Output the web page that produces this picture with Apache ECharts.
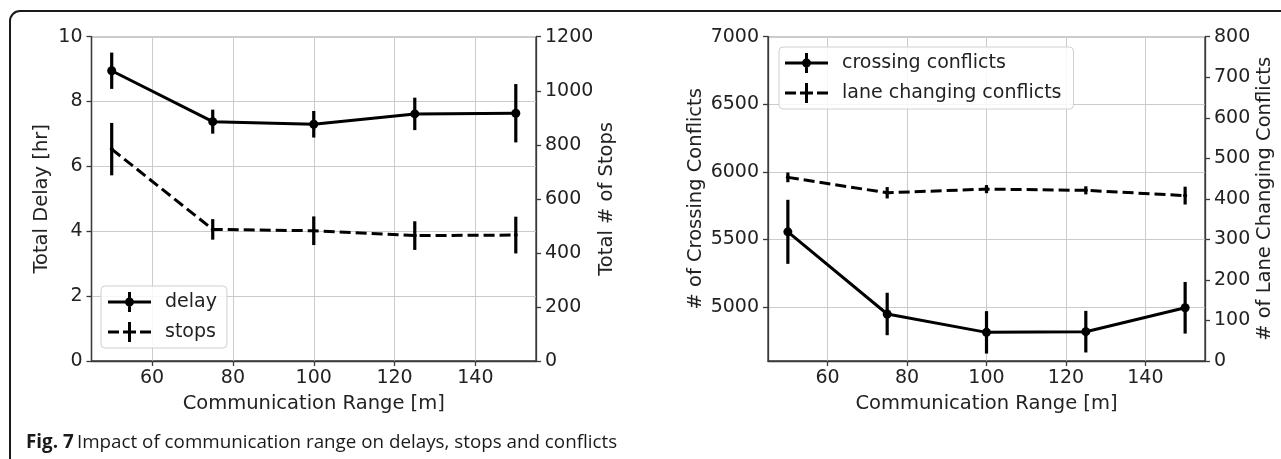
<!DOCTYPE html>
<html><head><meta charset="utf-8">
<script src="https://cdn.jsdelivr.net/npm/echarts@6/dist/echarts.min.js"></script>
<style>html,body{margin:0;padding:0;background:#fff}#c{width:1281px;height:459px}</style>
</head><body><div id="c"></div>
<script>
// ---- data ----
const range = [50, 75, 100, 125, 150];
const xTicks = [60, 80, 100, 120, 140];
const delay = [8.95, 7.38, 7.30, 7.62, 7.64];
const delayErr = [0.56, 0.37, 0.41, 0.50, 0.90];
const stops = [784, 487, 482, 464, 466];
const stopsErr = [97, 38, 53, 53, 68];
const crossing = [5556, 4948, 4812, 4817, 4994];
const crossingErr = [237, 157, 157, 154, 191];
const laneChanging = [453, 415, 424, 421, 408];
const laneErr = [12, 14, 10, 10, 22];
const crossingTicks = [5000, 5500, 6000, 6500, 7000];

const FONT = 'DejaVu Sans';
const TXT = '#222';
const SPINE = '#3a3a3a';
const GRIDC = '#cbcbcb';

const ICON_SOLID = 'path://M0,8.5L43,8.5L43,11.5L0,11.5Z M20,0L23,0L23,20L20,20Z M17,10A4.5,4.5 0 1 1 26,10A4.5,4.5 0 1 1 17,10Z';
const ICON_DASH = 'path://M0,8.5L11,8.5L11,11.5L0,11.5Z M15,8.5L28,8.5L28,11.5L15,11.5Z M32,8.5L43,8.5L43,11.5L32,11.5Z M20,0L23,0L23,20L20,20Z';

function pairs(vals) { return range.map((x, i) => [x, vals[i]]); }
function bars(vals, errs) { return range.map((x, i) => [x, vals[i] - errs[i], vals[i] + errs[i]]); }

function errRender(params, api) {
  const p1 = api.coord([api.value(0), api.value(1)]);
  const p2 = api.coord([api.value(0), api.value(2)]);
  return { type: 'line', shape: { x1: p1[0], y1: p1[1], x2: p2[0], y2: p2[1] },
           style: { stroke: '#000', lineWidth: 3.2 } };
}

const labelStyle = { fontFamily: FONT, fontSize: 19, color: TXT };
const nameStyle = { fontFamily: FONT, fontSize: 19.5, color: TXT };
const plain = v => String(v);

function xAxisCfg(gi) {
  return {
    type: 'value', gridIndex: gi, min: 45, max: 155,
    name: 'Communication Range [m]', nameLocation: 'middle', nameGap: 33,
    nameTextStyle: nameStyle,
    axisLine: { show: true, onZero: false, lineStyle: { color: SPINE, width: 1.3 } },
    axisTick: { show: true, length: 5, customValues: xTicks, lineStyle: { color: SPINE, width: 1.3 } },
    axisLabel: Object.assign({ customValues: xTicks, margin: 8, formatter: plain }, labelStyle),
    splitLine: { show: true, lineStyle: { color: GRIDC, width: 1 } }
  };
}
function yAxisCfg(gi, pos, name, gap, extra, grid) {
  return Object.assign({
    type: 'value', gridIndex: gi, position: pos,
    name: name, nameLocation: 'middle', nameGap: gap, nameTextStyle: nameStyle,
    axisLine: { show: true, lineStyle: { color: SPINE, width: 1.3 } },
    axisTick: { show: true, length: 5, lineStyle: { color: SPINE, width: 1.3 } },
    axisLabel: Object.assign({ margin: 9, formatter: plain }, labelStyle),
    splitLine: { show: grid, lineStyle: { color: GRIDC, width: 1 } }
  }, extra);
}

const legendCommon = {
  orient: 'vertical', itemWidth: 43, itemHeight: 20, itemGap: 10,
  borderColor: '#d0d0d0', borderWidth: 1, borderRadius: 4,
  backgroundColor: 'rgba(255,255,255,0.85)',
  textStyle: { fontFamily: FONT, fontSize: 19, color: TXT, padding: [0, 0, 0, 9] },
  itemStyle: { color: '#000', borderWidth: 0 },
  selectedMode: false
};

const chart = echarts.init(document.getElementById('c'), null, { renderer: 'canvas' });
const yLeft2 = yAxisCfg(1, 'left', '# of Crossing Conflicts', 62, { min: 4600, max: 7000 }, true);
yLeft2.axisTick.customValues = crossingTicks;
yLeft2.axisLabel.customValues = crossingTicks;

chart.setOption({
  animation: false,
  backgroundColor: '#fff',
  grid: [
    { left: 91.5, top: 36.7, width: 444.5, height: 324.3, show: true, borderColor: SPINE, borderWidth: 1.3, backgroundColor: 'transparent', outerBoundsMode: 'none' },
    { left: 768, top: 36.7, width: 437, height: 324.3, show: true, borderColor: SPINE, borderWidth: 1.3, backgroundColor: 'transparent', outerBoundsMode: 'none' }
  ],
  xAxis: [xAxisCfg(0), xAxisCfg(1)],
  yAxis: [
    yAxisCfg(0, 'left', 'Total Delay [hr]', 40, { min: 0, max: 10, interval: 2 }, true),
    yAxisCfg(0, 'right', 'Total # of Stops', 58, { min: 0, max: 1200, interval: 200 }, false),
    yLeft2,
    yAxisCfg(1, 'right', '# of Lane Changing Conflicts', 50, { min: 0, max: 800, interval: 100 }, false)
  ],
  legend: [
    Object.assign({}, legendCommon, { left: 101, top: 286, padding: [6, 10, 6, 7],
      data: [{ name: 'delay', icon: ICON_SOLID }, { name: 'stops', icon: ICON_DASH }] }),
    Object.assign({}, legendCommon, { left: 779, top: 47, padding: [6, 12, 6, 6],
      data: [{ name: 'crossing conflicts', icon: ICON_SOLID }, { name: 'lane changing conflicts', icon: ICON_DASH }] })
  ],
  series: [
    { name: 'delay', type: 'line', xAxisIndex: 0, yAxisIndex: 0, data: pairs(delay),
      symbol: 'circle', symbolSize: 9, color: '#000', itemStyle: { color: '#000' },
      lineStyle: { color: '#000', width: 3 }, z: 3 },
    { name: 'delay', type: 'custom', xAxisIndex: 0, yAxisIndex: 0, data: bars(delay, delayErr),
      encode: { x: 0, y: [1, 2] }, renderItem: errRender, itemStyle: { color: '#000' }, z: 4 },
    { name: 'stops', type: 'line', xAxisIndex: 0, yAxisIndex: 1, data: pairs(stops),
      symbol: 'circle', symbolSize: 4, color: '#000', itemStyle: { color: '#000' },
      lineStyle: { color: '#000', width: 3, type: [11, 5] }, z: 3 },
    { name: 'stops', type: 'custom', xAxisIndex: 0, yAxisIndex: 1, data: bars(stops, stopsErr),
      encode: { x: 0, y: [1, 2] }, renderItem: errRender, itemStyle: { color: '#000' }, z: 4 },
    { name: 'crossing conflicts', type: 'line', xAxisIndex: 1, yAxisIndex: 2, data: pairs(crossing),
      symbol: 'circle', symbolSize: 9, color: '#000', itemStyle: { color: '#000' },
      lineStyle: { color: '#000', width: 3 }, z: 3 },
    { name: 'crossing conflicts', type: 'custom', xAxisIndex: 1, yAxisIndex: 2, data: bars(crossing, crossingErr),
      encode: { x: 0, y: [1, 2] }, renderItem: errRender, itemStyle: { color: '#000' }, z: 4 },
    { name: 'lane changing conflicts', type: 'line', xAxisIndex: 1, yAxisIndex: 3, data: pairs(laneChanging),
      symbol: 'circle', symbolSize: 4, color: '#000', itemStyle: { color: '#000' },
      lineStyle: { color: '#000', width: 3, type: [11, 5] }, z: 3 },
    { name: 'lane changing conflicts', type: 'custom', xAxisIndex: 1, yAxisIndex: 3, data: bars(laneChanging, laneErr),
      encode: { x: 0, y: [1, 2] }, renderItem: errRender, itemStyle: { color: '#000' }, z: 4 }
  ],
  graphic: [
    { type: 'rect', silent: true, z: 100,
      shape: { x: 10, y: 11, width: 1400, height: 600, r: 10 },
      style: { fill: 'none', stroke: '#1a1a1a', lineWidth: 2 } },
    { type: 'text', left: 26, top: 433, z: 100,
      style: { text: '{b|Fig. 7} {n|Impact of communication range on delays, stops and conflicts}',
        rich: {
          b: { fontFamily: 'Open Sans', fontWeight: 'bold', fontSize: 18.8, fill: '#1a1a1a' },
          n: { fontFamily: 'Open Sans', fontSize: 18.8, fill: '#1a1a1a' }
        } } }
  ]
});
</script></body></html>
